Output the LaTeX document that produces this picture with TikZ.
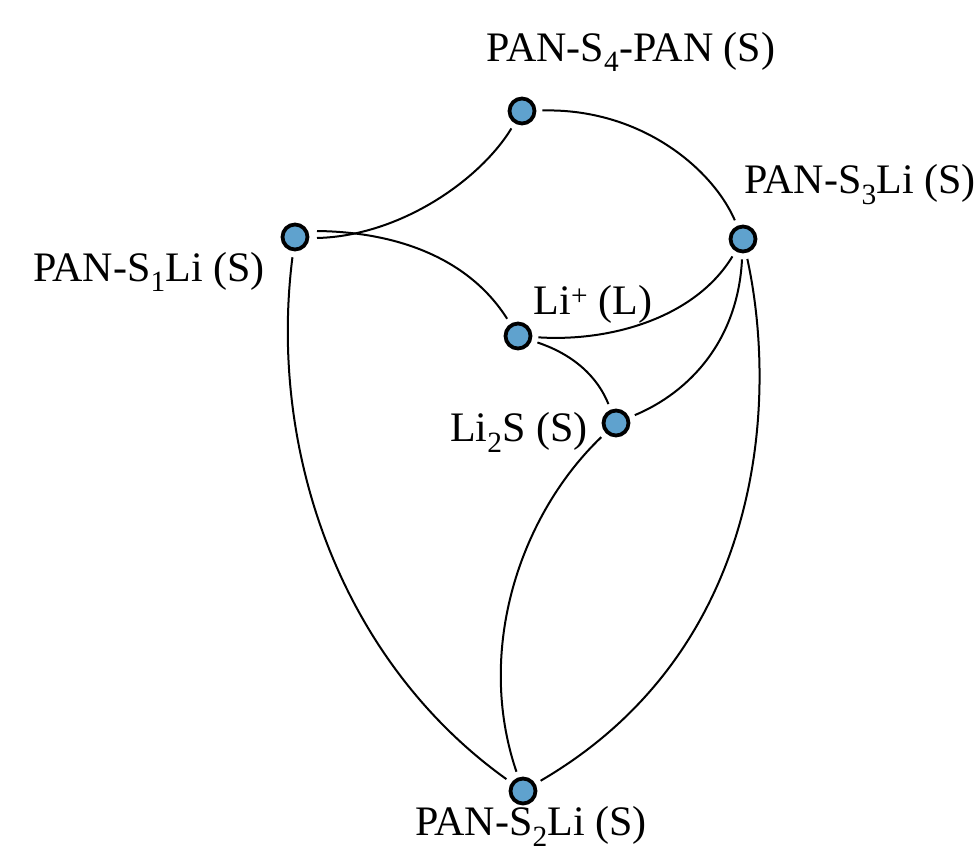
\documentclass[tikz,border=0pt]{standalone}
\usepackage{fontspec}
\setmainfont{Liberation Serif}
\definecolor{nodeblue}{RGB}{95,162,206}
\begin{document}
\begin{tikzpicture}[x=1pt,y=-1pt,
  site/.style={circle,draw=black,fill=nodeblue,line width=3.8pt,minimum size=25pt,inner sep=0pt},
  lbl/.style={font=\fontsize{42}{46}\selectfont,inner sep=0pt},
  edge/.style={line width=2pt,shorten <=6pt,shorten >=6pt}]
\useasboundingbox (0,0) rectangle (979,852);
% sites
\node[site] (s4) at (522,111) {};
\node[site] (s1) at (295,237) {};
\node[site] (s3) at (743,239) {};
\node[site] (li) at (518,336) {};
\node[site] (l2s) at (616,423) {};
\node[site] (s2) at (523,791) {};
% labels
\node[lbl] (t4) at (631,52) {PAN-S\textsubscript{4}-PAN (S)};
\node[lbl] (t3) at (860,185) {PAN-S\textsubscript{3}Li (S)};
\node[lbl] (t1) at (149,272) {PAN-S\textsubscript{1}Li (S)};
\node[lbl] (tli) at (593,304) {Li\textsuperscript{+} (L)};
\node[lbl] (tl2s) at (519,432) {Li\textsubscript{2}S (S)};
\node[lbl] (t2) at (531,826) {PAN-S\textsubscript{2}Li (S)};
% connectors
\draw[edge,shorten <=0pt] ([xshift=22pt,yshift=-1pt]s1.center) .. controls (400,236) and (480,180) .. (s4);
\draw[edge,shorten <=0pt] ([xshift=22pt,yshift=6pt]s1.center) .. controls (400,232) and (470,260) .. (li);
\draw[edge] (s4) .. controls (640,108) and (712,168) .. (s3);
\draw[edge] (s3) .. controls (695,318) and (610,342) .. (li);
\draw[edge] (s3) .. controls (738,340) and (690,392) .. (l2s);
\draw[edge] (s3) .. controls (778,400) and (765,650) .. (s2);
\draw[edge] (li) .. controls (575,355) and (598,378) .. (l2s);
\draw[edge] (l2s) .. controls (520,515) and (475,650) .. (s2);
\draw[edge] (s1) .. controls (268,450) and (340,660) .. (s2);
\end{tikzpicture}
\end{document}
